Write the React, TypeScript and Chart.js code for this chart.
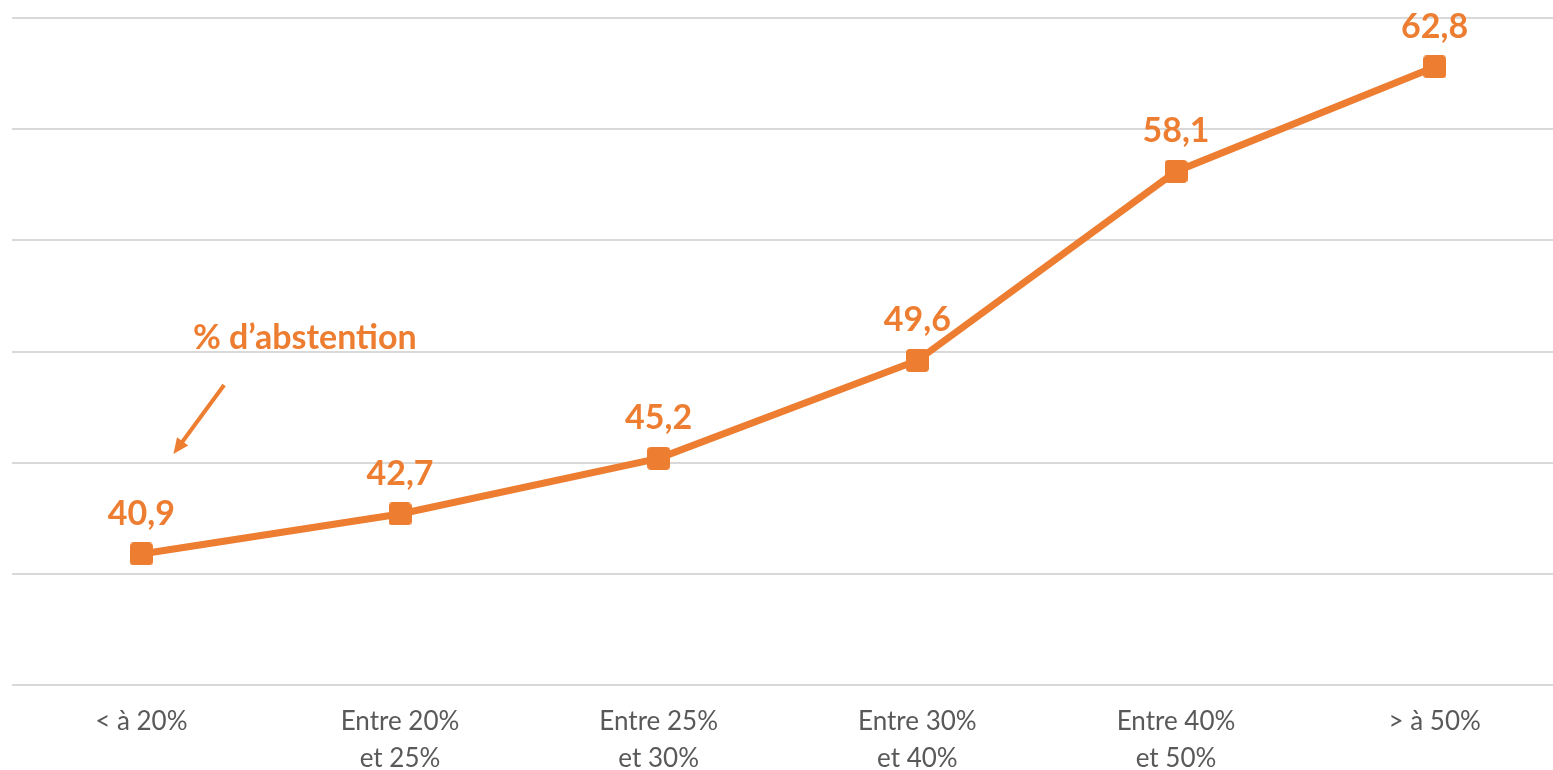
import React, { useEffect, useRef } from "react";
import { Chart, registerables } from "chart.js";

Chart.register(...registerables);

const categories: string[][] = [
  ["< à 20%"],
  ["Entre 20%", "et 25%"],
  ["Entre 25%", "et 30%"],
  ["Entre 30%", "et 40%"],
  ["Entre 40%", "et 50%"],
  ["> à 50%"],
];
const abstention: number[] = [40.9, 42.7, 45.2, 49.6, 58.1, 62.8];
const yMin = 35;
const yMax = 65;
const yStep = 5;
const annotationText = "% d’abstention";
// annotation anchors in data coordinates (category index, value)
const annotationTextAt = { x: 0.632, y: 50.1 };
const arrowFrom = { x: 0.32, y: 48.5 };
const arrowTo = { x: 0.124, y: 45.4 };

const ORANGE = "#ED7D31";
const FONT = "Lato, 'Open Sans', sans-serif";
const W = 1590;
const H = 790;

function makeMarker(): HTMLCanvasElement {
  const c = document.createElement("canvas");
  const s = 23;
  c.width = s;
  c.height = s;
  const ctx = c.getContext("2d")!;
  ctx.fillStyle = ORANGE;
  ctx.beginPath();
  (ctx as any).roundRect(0, 0, s, s, 4);
  ctx.fill();
  return c;
}

const labelPlugin = {
  id: "valueLabels",
  afterDatasetsDraw(chart: any) {
    const ctx = chart.ctx;
    const meta = chart.getDatasetMeta(0);
    ctx.save();
    ctx.fillStyle = ORANGE;
    ctx.font = `bold 34px ${FONT}`;
    ctx.textAlign = "center";
    ctx.textBaseline = "alphabetic";
    meta.data.forEach((pt: any, i: number) => {
      const v = chart.data.datasets[0].data[i] as number;
      ctx.fillText(v.toFixed(1).replace(".", ","), pt.x, pt.y - 29);
    });
    // annotation
    const xs = chart.scales.x;
    const ys = chart.scales.y;
    const px = (p: { x: number; y: number }) => [xs.getPixelForValue(p.x), ys.getPixelForValue(p.y)];
    const [tx, ty] = px(annotationTextAt);
    ctx.fillText(annotationText, tx, ty);
    const [ax1, ay1] = px(arrowFrom);
    const [ax2, ay2] = px(arrowTo);
    ctx.strokeStyle = ORANGE;
    ctx.lineWidth = 4;
    const ang = Math.atan2(ay2 - ay1, ax2 - ax1);
    const head = 17;
    const spread = 0.42;
    ctx.beginPath();
    ctx.moveTo(ax1, ay1);
    ctx.lineTo(ax2 - Math.cos(ang) * head * 0.8, ay2 - Math.sin(ang) * head * 0.8);
    ctx.stroke();
    ctx.beginPath();
    ctx.moveTo(ax2, ay2);
    ctx.lineTo(ax2 - Math.cos(ang - spread) * head, ay2 - Math.sin(ang - spread) * head);
    ctx.lineTo(ax2 - Math.cos(ang + spread) * head, ay2 - Math.sin(ang + spread) * head);
    ctx.closePath();
    ctx.fill();
    ctx.restore();
  },
};

export default function App() {
  const ref = useRef<HTMLCanvasElement>(null);
  useEffect(() => {
    document.body.style.margin = "0";
    document.body.style.overflow = "hidden";
    const marker = makeMarker();
    const chart = new Chart(ref.current!, {
      type: "line",
      data: {
        labels: categories,
        datasets: [
          {
            data: abstention,
            borderColor: ORANGE,
            backgroundColor: ORANGE,
            borderWidth: 7,
            tension: 0,
            pointStyle: marker as any,
            pointRadius: 12,
          },
        ],
      },
      options: {
        responsive: false,
        animation: false,
        layout: { padding: { left: 4, right: 8, top: 14.5, bottom: 2 } },
        plugins: { legend: { display: false }, tooltip: { enabled: false } },
        scales: {
          x: {
            offset: true,
            grid: { display: false },
            border: { display: false },
            ticks: {
              color: "#595959",
              font: { family: FONT, size: 26, lineHeight: 1.4 },
              padding: 10.5,
              maxRotation: 0,
              autoSkip: false,
            },
          },
          y: {
            min: yMin,
            max: yMax,
            grid: { color: "#D9D9D9", lineWidth: 2, drawTicks: false },
            border: { display: false },
            ticks: { display: false, stepSize: yStep },
          },
        },
      },
      plugins: [labelPlugin],
    });
    return () => chart.destroy();
  }, []);
  return (
    <div style={{ width: 1553, height: 770, overflow: "hidden", position: "relative" }}>
      <canvas
        ref={ref}
        width={W}
        height={H}
        style={{ position: "absolute", left: -7, top: -1.5 }}
      />
    </div>
  );
}
